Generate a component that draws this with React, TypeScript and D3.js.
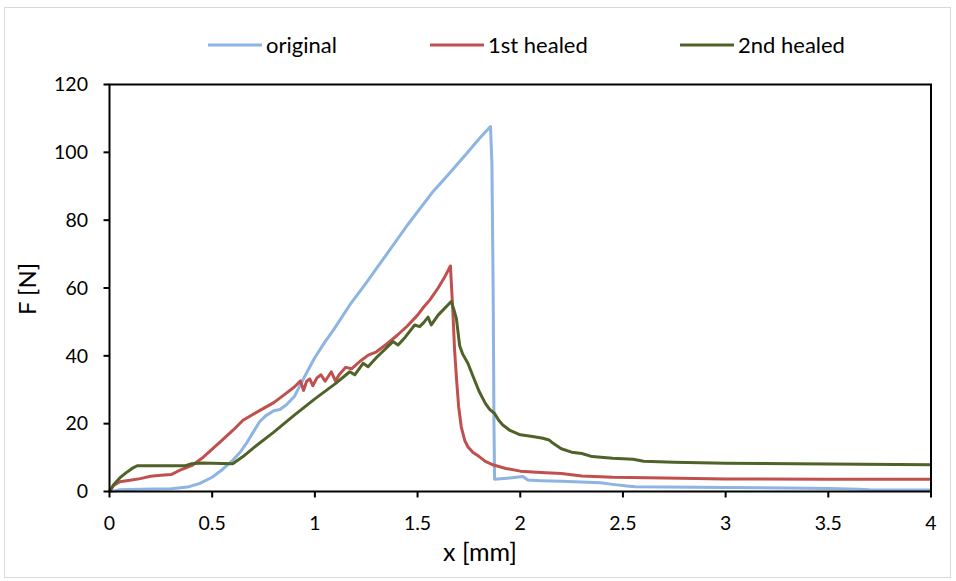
import React from 'react'
import * as d3 from 'd3'

// force-displacement curves
const original: [number, number][] = [
  [0, 0], [0.03, 0.2], [0.05, 0.5], [0.15, 0.7], [0.3, 0.8], [0.38, 1.3], [0.44, 2.4],
  [0.5, 4.2], [0.55, 6.5], [0.6, 9.2], [0.635, 11.5], [0.67, 14.5], [0.7, 17.5],
  [0.73, 20.5], [0.76, 22.3], [0.8, 23.8], [0.83, 24.2], [0.86, 25.5], [0.9, 28],
  [0.93, 31.5], [0.96, 35], [1.0, 39.5], [1.05, 44.2], [1.09, 47.6], [1.17, 55],
  [1.25, 61.5], [1.35, 70], [1.45, 78.5], [1.575, 88.4], [1.65, 93.5], [1.737, 99.5],
  [1.8, 104], [1.855, 107.6], [1.862, 97], [1.868, 60], [1.872, 20], [1.875, 3.6],
  [1.95, 4.0], [2.013, 4.4], [2.037, 3.4], [2.1, 3.2], [2.2, 3.0], [2.39, 2.6],
  [2.45, 2.1], [2.52, 1.6], [2.56, 1.4], [3.0, 1.2], [3.5, 0.9], [3.65, 0.65],
  [3.7, 0.5], [4.0, 0.45],
]

const healed1: [number, number][] = [
  [0, 0], [0.02, 1.8], [0.05, 2.9], [0.1, 3.3], [0.15, 3.8], [0.2, 4.5], [0.25, 4.8],
  [0.3, 5.0], [0.34, 6.2], [0.4, 7.6], [0.45, 9.8], [0.5, 12.5], [0.55, 15.2], [0.6, 18],
  [0.65, 21], [0.7, 22.8], [0.75, 24.5], [0.8, 26.2], [0.85, 28.5], [0.9, 30.8],
  [0.93, 32.6], [0.945, 29.8], [0.96, 32.5], [0.975, 33.2], [0.99, 31.2], [1.01, 33.5],
  [1.03, 34.4], [1.05, 32.5], [1.08, 35.3], [1.1, 32.6], [1.12, 34.6], [1.15, 36.6],
  [1.18, 36.2], [1.22, 38.4], [1.26, 40.2], [1.3, 41.2], [1.35, 43.5], [1.4, 46],
  [1.45, 48.8], [1.5, 52], [1.53, 54.4], [1.56, 56.5], [1.6, 60], [1.63, 63],
  [1.66, 66.5], [1.672, 53], [1.68, 42], [1.69, 33], [1.7, 25], [1.713, 19], [1.73, 15],
  [1.745, 13.2], [1.77, 11.5], [1.8, 10.3], [1.83, 8.9], [1.87, 7.8], [1.93, 6.8],
  [2.0, 6.0], [2.1, 5.6], [2.2, 5.3], [2.3, 4.6], [2.45, 4.2], [2.7, 4.0], [3.0, 3.7],
  [3.5, 3.6], [4.0, 3.6],
]

const healed2: [number, number][] = [
  [0, 0], [0.02, 2], [0.05, 4], [0.08, 5.5], [0.11, 6.8], [0.135, 7.6], [0.2, 7.6],
  [0.3, 7.6], [0.37, 7.6], [0.4, 8.2], [0.45, 8.4], [0.5, 8.3], [0.6, 8.2], [0.65, 10.3],
  [0.7, 12.8], [0.8, 17.5], [0.9, 22.5], [1.0, 27.3], [1.1, 31.8], [1.17, 35.3],
  [1.194, 34.4], [1.235, 37.8], [1.259, 36.8], [1.3, 39.5], [1.38, 44.2], [1.405, 43.2],
  [1.44, 45.5], [1.486, 49.1], [1.51, 48.6], [1.53, 49.8], [1.551, 51.4], [1.567, 49.1],
  [1.6, 52], [1.664, 56], [1.675, 54], [1.689, 51], [1.705, 43], [1.72, 40.5],
  [1.745, 37.8], [1.77, 34], [1.8, 29.5], [1.83, 26], [1.851, 24.2], [1.875, 23],
  [1.895, 21], [1.915, 19.6], [1.95, 18], [2.0, 16.7], [2.06, 16.2], [2.11, 15.7],
  [2.14, 15.2], [2.16, 14.2], [2.2, 12.6], [2.25, 11.6], [2.3, 11.2], [2.35, 10.3],
  [2.45, 9.8], [2.55, 9.5], [2.6, 8.9], [2.75, 8.6], [3.0, 8.3], [3.5, 8.1], [4.0, 7.9],
]

const seriesNames = ['original', '1st healed', '2nd healed']
const seriesColors = ['#8db4e3', '#c0504d', '#4f6228']
const xTicks = [0, 0.5, 1, 1.5, 2, 2.5, 3, 3.5, 4]
const yTicks = [0, 20, 40, 60, 80, 100, 120]

const W = 956
const H = 581
const font = "Lato, 'Open Sans', sans-serif"

const App = () => {
  const x = d3.scaleLinear().domain([0, 4]).range([109.5, 931])
  const y = d3.scaleLinear().domain([0, 120]).range([491.5, 84.5])
  const line = d3
    .line<[number, number]>()
    .x((d) => x(d[0]))
    .y((d) => y(d[1]))
  const series = [original, healed1, healed2]
  const legendX = [208, 430, 680]

  return (
    <svg
      width={W}
      height={H}
      style={{ position: 'absolute', left: 0, top: 0, display: 'block' }}
      fontFamily={font}
    >
      <rect x={0} y={0} width={W} height={H} fill="#fff" />
      <rect x={4.5} y={7.5} width={946} height={570} fill="none" stroke="#d9d9d9" />

      {/* legend */}
      {seriesNames.map((name, i) => (
        <g key={name}>
          <line
            x1={legendX[i]}
            x2={legendX[i] + 54}
            y1={45}
            y2={45}
            stroke={seriesColors[i]}
            strokeWidth={3}
          />
          <text x={legendX[i] + 58} y={53} fontSize={22} fill="#000">
            {name}
          </text>
        </g>
      ))}

      {/* curves */}
      {series.map((s, i) => (
        <path
          key={i}
          d={line(s) || ''}
          fill="none"
          stroke={seriesColors[i]}
          strokeWidth={3}
          strokeLinejoin="round"
        />
      ))}

      {/* plot frame */}
      <rect
        x={x(0)}
        y={y(120)}
        width={x(4) - x(0)}
        height={y(0) - y(120)}
        fill="none"
        stroke="#000"
        strokeWidth={2}
      />

      {/* y axis */}
      {yTicks.map((t) => (
        <g key={t}>
          <line x1={x(0) - 6} x2={x(0)} y1={y(t)} y2={y(t)} stroke="#000" strokeWidth={2} />
          <text x={88} y={y(t)} dy="0.35em" textAnchor="end" fontSize={19.5}>
            {t}
          </text>
        </g>
      ))}

      {/* x axis */}
      {xTicks.map((t) => (
        <g key={t}>
          <line x1={x(t)} x2={x(t)} y1={y(0)} y2={y(0) + 6} stroke="#000" strokeWidth={2} />
          <text x={x(t)} y={530} textAnchor="middle" fontSize={19.5}>
            {String(t)}
          </text>
        </g>
      ))}

      <text
        transform="translate(36 289) rotate(-90)"
        textAnchor="middle"
        fontSize={24}
      >
        F [N]
      </text>
      <text x={480} y={561} textAnchor="middle" fontSize={25}>
        x [mm]
      </text>
    </svg>
  )
}

export default App
